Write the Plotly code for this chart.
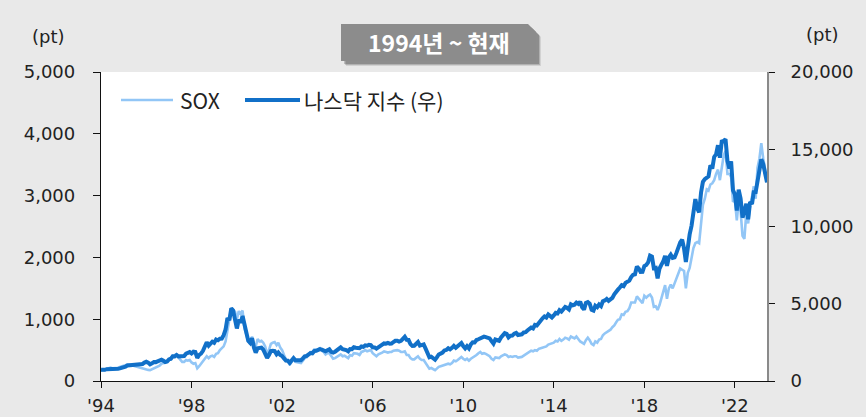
import pandas as pd
import plotly.graph_objects as go

# Monthly data, May 1994 - Oct 2023
start_month = "1994-05-01"

sox = [
    # 1994 (May-Dec)
    175, 170, 175, 195, 200, 215, 205, 205,
    # 1995
    210, 215, 225, 240, 245, 255, 270, 265, 260, 250, 240, 230,
    # 1996
    220, 210, 200, 195, 190, 180, 175, 190, 210, 215, 230, 250,
    # 1997
    280, 290, 290, 310, 340, 350, 410, 420, 430, 380, 340, 310,
    # 1998
    310, 340, 330, 340, 300, 280, 290, 205, 240, 280, 330, 370,
    # 1999
    400, 370, 400, 410, 390, 440, 450, 500, 540, 560, 640, 800,
    # 2000
    960, 1180, 1150, 1120, 1000, 1130, 1090, 1140, 850, 750, 640, 600,
    # 2001
    720, 600, 560, 680, 640, 650, 620, 560, 440, 500, 600, 620,
    # 2002
    630, 580, 620, 540, 500, 420, 350, 330, 260, 310, 380, 310,
    # 2003
    300, 300, 290, 330, 370, 380, 430, 470, 470, 510, 500, 510,
    # 2004
    530, 490, 470, 430, 450, 450, 400, 360, 370, 390, 420, 430,
    # 2005
    400, 410, 390, 370, 420, 410, 450, 450, 440, 420, 470, 480,
    # 2006
    500, 480, 490, 500, 450, 430, 400, 430, 440, 460, 480, 470,
    # 2007
    460, 470, 470, 490, 500, 500, 490, 470, 470, 480, 420, 420,
    # 2008
    370, 350, 350, 380, 400, 360, 340, 340, 290, 240, 200, 210,
    # 2009
    190, 175, 200, 230, 240, 250, 270, 275, 280, 270, 290, 330,
    # 2010
    320, 340, 370, 390, 360, 340, 360, 330, 360, 380, 390, 420,
    # 2011
    450, 470, 440, 450, 440, 420, 400, 360, 340, 380, 370, 370,
    # 2012
    400, 420, 430, 420, 390, 400, 390, 400, 400, 380, 380, 390,
    # 2013
    410, 430, 440, 460, 490, 480, 500, 490, 520, 530, 540, 560,
    # 2014
    560, 590, 600, 600, 620, 650, 640, 680, 650, 670, 700, 690,
    # 2015
    670, 720, 700, 690, 720, 680, 640, 620, 600, 660, 700, 660,
    # 2016
    600, 580, 640, 620, 670, 680, 740, 770, 790, 800, 830, 870,
    # 2017
    900, 950, 990, 1000, 1080, 1070, 1120, 1130, 1180, 1270, 1270, 1270,
    # 2018
    1370, 1330, 1290, 1260, 1380, 1350, 1380, 1400, 1350, 1200, 1210, 1150,
    # 2019
    1230, 1350, 1420, 1550, 1330, 1500, 1560, 1500, 1580, 1660, 1750, 1820,
    # 2020
    1800, 1780, 1500, 1750, 1830, 2010, 2150, 2230, 2250, 2230, 2600, 2850,
    # 2021
    2950, 3100, 3080, 3180, 3200, 3250, 3350, 3420, 3250, 3450, 3650, 3720,
    # 2022
    3350, 3350, 3300, 2900, 2930, 2600, 2900, 2750, 2350, 2300, 2720, 2550,
    # 2023 (Jan-Oct)
    2850, 2980, 3150, 2950, 3450, 3600, 3850, 3600, 3450, 3250,
]

nasdaq = [
    # 1994 (May-Dec)
    735, 706, 722, 765, 764, 777, 750, 752,
    # 1995
    755, 793, 817, 843, 864, 933, 1001, 1020, 1044, 1036, 1059, 1052,
    # 1996
    1059, 1100, 1101, 1191, 1243, 1185, 1081, 1141, 1227, 1222, 1293, 1291,
    # 1997
    1380, 1309, 1222, 1261, 1400, 1442, 1594, 1587, 1686, 1594, 1601, 1570,
    # 1998
    1619, 1771, 1835, 1869, 1779, 1895, 1873, 1499, 1694, 1771, 1950, 2193,
    # 1999
    2506, 2288, 2461, 2543, 2471, 2686, 2638, 2739, 2746, 2966, 3336, 4069,
    # 2000
    3940, 4697, 4573, 3861, 3401, 3966, 3767, 4206, 3673, 3370, 2598, 2471,
    # 2001
    2773, 2152, 1840, 2116, 2110, 2161, 2027, 1805, 1499, 1690, 1931, 1950,
    # 2002
    1934, 1731, 1845, 1688, 1616, 1463, 1328, 1315, 1172, 1330, 1479, 1336,
    # 2003
    1321, 1338, 1341, 1464, 1596, 1623, 1735, 1810, 1787, 1932, 1960, 2003,
    # 2004
    2066, 2030, 1994, 1920, 1987, 2048, 1887, 1838, 1897, 1975, 2097, 2175,
    # 2005
    2062, 2052, 1999, 1922, 2068, 2057, 2185, 2152, 2152, 2120, 2233, 2205,
    # 2006
    2306, 2281, 2340, 2323, 2179, 2172, 2091, 2184, 2258, 2367, 2432, 2415,
    # 2007
    2464, 2416, 2422, 2525, 2605, 2603, 2546, 2596, 2702, 2859, 2661, 2652,
    # 2008
    2390, 2271, 2279, 2413, 2523, 2293, 2326, 2368, 2092, 1721, 1536, 1577,
    # 2009
    1476, 1378, 1529, 1717, 1774, 1835, 1979, 2009, 2122, 2045, 2145, 2269,
    # 2010
    2147, 2238, 2398, 2461, 2257, 2109, 2255, 2114, 2369, 2507, 2498, 2653,
    # 2011
    2700, 2782, 2781, 2874, 2835, 2774, 2756, 2579, 2415, 2684, 2620, 2605,
    # 2012
    2814, 2967, 3092, 3046, 2827, 2935, 2940, 3067, 3116, 2977, 3010, 3020,
    # 2013
    3142, 3160, 3268, 3329, 3456, 3403, 3626, 3590, 3771, 3920, 4060, 4177,
    # 2014
    4104, 4308, 4199, 4115, 4243, 4408, 4370, 4580, 4493, 4631, 4792, 4736,
    # 2015
    4635, 4964, 4901, 4941, 5070, 4987, 5128, 4777, 4620, 5054, 5109, 5007,
    # 2016
    4614, 4558, 4870, 4775, 4948, 4843, 5162, 5213, 5312, 5189, 5324, 5383,
    # 2017
    5615, 5825, 5912, 6048, 6199, 6140, 6348, 6429, 6496, 6728, 6874, 6903,
    # 2018
    7411, 7273, 7063, 7066, 7442, 7510, 7672, 8110, 8046, 7306, 7331, 6635,
    # 2019
    7282, 7533, 7729, 8095, 7453, 8006, 8175, 7963, 7999, 8292, 8665, 8973,
    # 2020
    9151, 8567, 7700, 8890, 9490, 10059, 10745, 11775, 11168, 10912, 12199, 12888,
    # 2021
    13071, 13192, 13247, 13962, 13749, 14504, 14673, 15259, 14449, 15498, 15538, 15645,
    # 2022
    14240, 13751, 14221, 12335, 12081, 11029, 12391, 11816, 10576, 10988, 11468, 10466,
    # 2023 (Jan-Oct)
    11585, 11456, 12222, 12227, 12935, 13788, 14346, 14035, 13219, 12851,
]

tick_dates = ["1994-05-01", "1998-05-01", "2002-05-01", "2006-05-01",
              "2010-05-01", "2014-05-01", "2018-05-01", "2022-05-01"]
tick_labels = ["'94", "'98", "'02", "'06", "'10", "'14", "'18", "'22"]

left_ticks = [0, 1000, 2000, 3000, 4000, 5000]
right_ticks = [0, 5000, 10000, 15000, 20000]

dates = pd.date_range(start_month, periods=len(nasdaq), freq="MS")
assert len(sox) == len(nasdaq)

FONT = "DejaVu Sans, Noto Sans CJK KR, sans-serif"
KFONT = "Noto Sans CJK KR, Noto Sans, sans-serif"
SOX_COLOR = "#92c6f6"
NAS_COLOR = "#1170c8"

W, H = 866, 417
L, R, T, B = 101, 99, 72, 36
PW, PH = W - L - R, H - T - B


def px(x):
    return (x - L) / PW


def py(y):
    return (H - B - y) / PH


fig = go.Figure()
fig.add_trace(go.Scatter(x=dates, y=sox, name="SOX", mode="lines",
                         line=dict(color=SOX_COLOR, width=2.6), yaxis="y",
                         showlegend=False))
fig.add_trace(go.Scatter(x=dates, y=nasdaq, name="나스닥 지수 (우)", mode="lines",
                         line=dict(color=NAS_COLOR, width=4), yaxis="y2",
                         showlegend=False))

tickfont = dict(family=FONT, size=18, color="#222222")

fig.update_layout(
    width=W, height=H,
    margin=dict(l=L, r=R, t=T, b=B, autoexpand=False),
    paper_bgcolor="#e9e9e9",
    plot_bgcolor="#ffffff",
    font=dict(family=FONT, size=18, color="#222222"),
    xaxis=dict(
        type="date", range=[dates[0], dates[-1]],
        tickvals=tick_dates, ticktext=tick_labels,
        showgrid=False, zeroline=False, automargin=False,
        showline=True, linecolor="#111111", linewidth=1.3,
        ticks="outside", ticklen=6, tickcolor="#111111", tickwidth=1.3,
        tickfont=tickfont, ticklabelstandoff=2,
    ),
    yaxis=dict(
        range=[0, 5000], tickvals=left_ticks, tickformat=",",
        showgrid=False, zeroline=False, automargin=False,
        showline=True, linecolor="#111111", linewidth=1.3,
        ticks="outside", ticklen=7, tickcolor="#111111", tickwidth=1.3,
        tickfont=tickfont, ticklabelstandoff=14,
    ),
    yaxis2=dict(
        range=[0, 20000], tickvals=right_ticks, tickformat=",",
        overlaying="y", side="right", anchor="x", automargin=False,
        showgrid=False, zeroline=False,
        showline=True, linecolor="#8a8a8a", linewidth=2,
        ticks="outside", ticklen=6, tickcolor="#111111", tickwidth=1.3,
        tickfont=tickfont, ticklabelstandoff=12,
    ),
    showlegend=False,
)

# Title box with cut corner and shadow
x0, x1, y0, y1, cut = 341, 536, 24, 61, 8


def box_path(dx, dy):
    pts = [(x0 + dx, y0 + dy), (x1 - cut + dx, y0 + dy), (x1 + dx, y0 + cut + dy),
           (x1 + dx, y1 + dy), (x0 + dx, y1 + dy)]
    return "M " + " L ".join(f"{px(a):.5f},{py(b):.5f}" for a, b in pts) + " Z"


for (dx, dy, op) in [(5, 5, 0.10), (4, 4, 0.15), (3, 3, 0.2)]:
    fig.add_shape(type="path", xref="paper", yref="paper", path=box_path(dx, dy),
                  fillcolor=f"rgba(0,0,0,{op})", line=dict(width=0), layer="above")
fig.add_shape(type="path", xref="paper", yref="paper", path=box_path(0, 0),
              fillcolor="#8c8c8c", line=dict(width=0), layer="above")
fig.add_annotation(x=px((x0 + x1) / 2), y=py(42), xref="paper", yref="paper",
                   text="<b>1994년 ~ 현재</b>", showarrow=False,
                   font=dict(family=KFONT, size=23, color="#ffffff"),
                   xanchor="center", yanchor="middle")

# Unit labels
fig.add_annotation(x=px(48), y=py(37), xref="paper", yref="paper", text="(pt)",
                   showarrow=False, font=dict(family=FONT, size=18, color="#222222"),
                   xanchor="center", yanchor="middle")
fig.add_annotation(x=px(822), y=py(35), xref="paper", yref="paper", text="(pt)",
                   showarrow=False, font=dict(family=FONT, size=18, color="#222222"),
                   xanchor="center", yanchor="middle")

# Legend (drawn manually)
legend_items = [("SOX", SOX_COLOR, 2.6, 121, 173, 178),
                ("나스닥 지수 (우)", NAS_COLOR, 4, 245, 300, 302)]
for label, color, width, lx0, lx1, tx in legend_items:
    fig.add_shape(type="line", xref="paper", yref="paper",
                  x0=px(lx0), x1=px(lx1), y0=py(100), y1=py(100),
                  line=dict(color=color, width=width))
    fig.add_annotation(x=px(tx), y=py(100), xref="paper", yref="paper", text=label,
                       showarrow=False, xanchor="left", yanchor="middle",
                       font=dict(family=KFONT, size=21, color="#222222"))

fig.write_html("out.html",
               config={"displayModeBar": False},
               post_script="document.body.style.margin='0';document.body.style.overflow='hidden';")
